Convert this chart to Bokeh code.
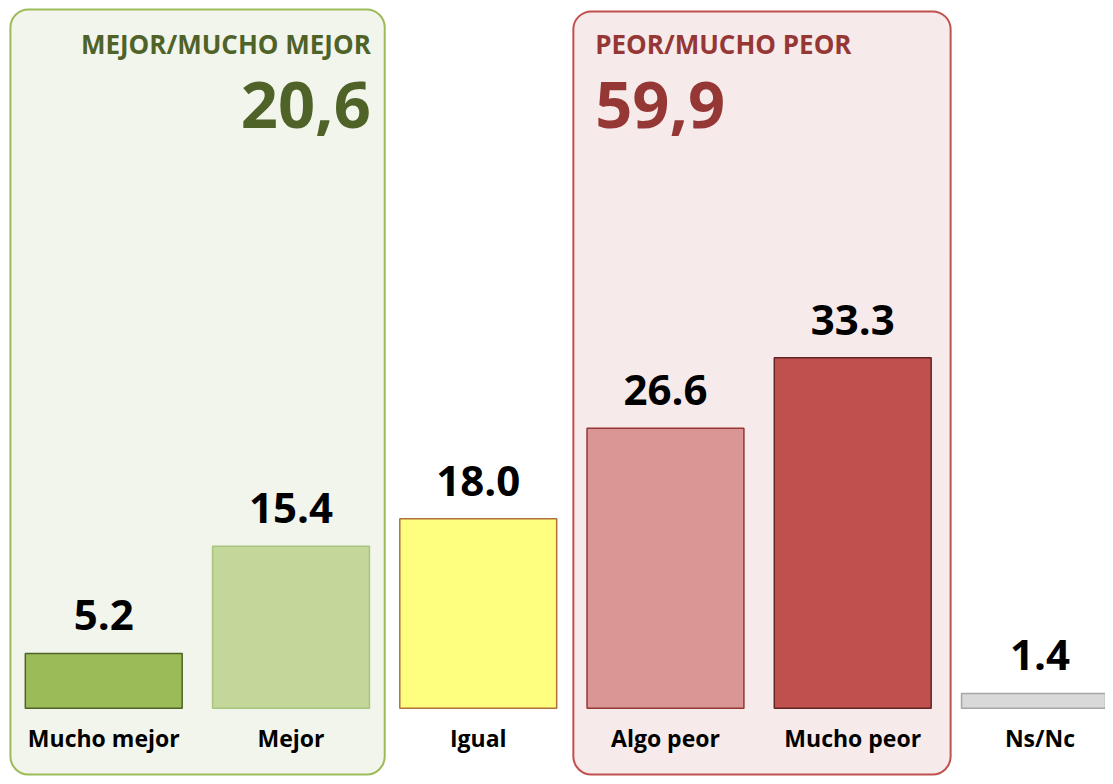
from bokeh.plotting import figure
from bokeh.models import Range1d, BoxAnnotation, ColumnDataSource
from bokeh.core.properties import value
from bokeh.embed import file_html
from bokeh.resources import INLINE

# ---- data ----
categories = ["Mucho mejor", "Mejor", "Igual", "Algo peor", "Mucho peor", "Ns/Nc"]
values = [5.2, 15.4, 18.0, 26.6, 33.3, 1.4]
fills = ["#9BBB59", "#C4D79B", "#FFFF7F", "#DA9694", "#C0504D", "#D9D9D9"]
borders = ["#4F6228", "#A9C47F", "#B0703A", "#953735", "#632523", "#A6A6A6"]
group_titles = ["MEJOR/MUCHO MEJOR", "PEOR/MUCHO PEOR"]
group_totals = ["20,6", "59,9"]

# ---- layout helpers (reference pixel -> data) ----
X0, DX = 104.0, 188.6
Y0, DY = 715.0, 10.63
def xd(px):
    return (px - X0) / DX
def yd(py):
    return (Y0 - py) / DY

W, H = 1105, 776
p = figure(width=W, height=H, output_backend="svg", toolbar_location=None,
           x_range=Range1d(xd(0), xd(1113)), y_range=Range1d(yd(784), yd(0)),
           x_axis_type=None, y_axis_type=None, min_border=0,
           background_fill_color="white", border_fill_color="white")
p.outline_line_color = None
p.grid.visible = False

FONT = "Open Sans"

# group boxes
p.add_layout(BoxAnnotation(left=xd(10), right=xd(387), top=yd(9), bottom=yd(782),
                           fill_color="#F2F5EC", fill_alpha=1, line_color="#9BBB59",
                           line_alpha=1, line_width=2, border_radius=18, level="underlay"))
p.add_layout(BoxAnnotation(left=xd(577), right=xd(957), top=yd(11), bottom=yd(782),
                           fill_color="#F7EAEA", fill_alpha=1, line_color="#C0504D",
                           line_alpha=1, line_width=2, border_radius=18, level="underlay"))

xs = list(range(len(categories)))
src = ColumnDataSource(dict(x=xs, top=values, fill=fills, border=borders,
                            cat=categories, lbl=[f"{v:.1f}" for v in values],
                            ly=[yd(745)] * len(categories)))
p.vbar(x="x", top="top", bottom=0, width=158 / DX, fill_color="fill",
       line_color="border", line_width=1.5, source=src)

p.text(x="x", y="top", text="lbl", source=src, text_align="center",
       text_baseline="alphabetic", y_offset=-38, text_font=value(FONT),
       text_font_style="bold", text_font_size="42px", text_color="black")
p.text(x="x", y="ly", text="cat", source=src, text_align="center",
       text_baseline="middle", text_font=value(FONT), text_font_style="bold",
       text_font_size="23px", text_color="black")

# group headers
p.text(x=[xd(373)], y=[yd(44)], text=[group_titles[0]], text_align="right",
       text_baseline="alphabetic", text_font=value(FONT), text_font_style="bold",
       text_font_size="26px", text_color="#4F6228")
p.text(x=[xd(373)], y=[yd(106)], text=[group_totals[0]], text_align="right",
       text_baseline="alphabetic", text_font=value(FONT), text_font_style="bold",
       text_font_size="65px", text_color="#4F6228")
p.text(x=[xd(599)], y=[yd(44)], text=[group_titles[1]], text_align="left",
       text_baseline="alphabetic", text_font=value(FONT), text_font_style="bold",
       text_font_size="26px", text_color="#953735")
p.text(x=[xd(599)], y=[yd(106)], text=[group_totals[1]], text_align="left",
       text_baseline="alphabetic", text_font=value(FONT), text_font_style="bold",
       text_font_size="65px", text_color="#953735")

open("out.html", "w").write(file_html(p, INLINE))
